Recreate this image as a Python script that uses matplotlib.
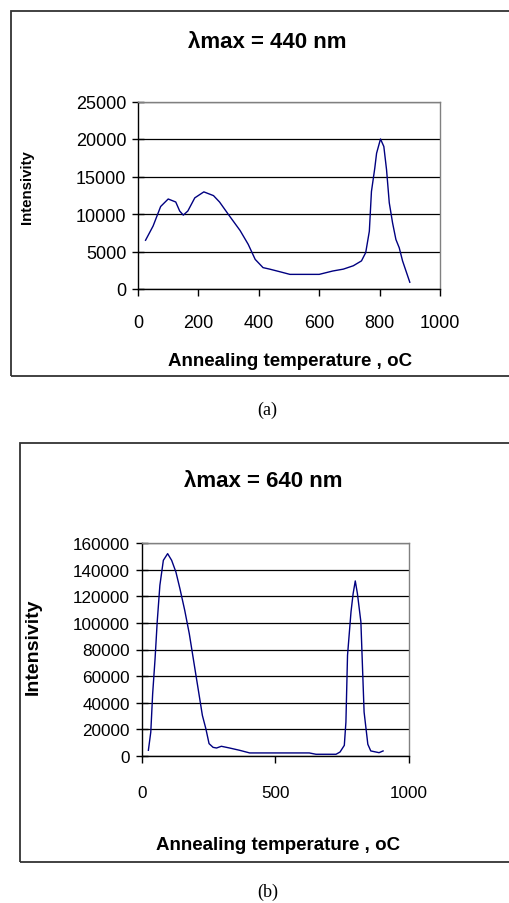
import matplotlib
matplotlib.use("Agg")
import matplotlib.pyplot as plt
from matplotlib.patches import Rectangle

plt.rcParams['font.family'] = ['Liberation Sans', 'DejaVu Sans']

# panel (a): lambda max = 440 nm
temp_a = [25, 50, 75, 100, 125, 138, 150, 165, 188, 218, 250, 270, 300, 338,
          365, 388, 414, 436, 470, 503, 600, 645, 680, 713, 740, 754, 766, 773,
          784, 790, 803, 814, 823, 832, 843, 854, 865, 876, 900]
int_a = [6500, 8400, 11000, 12000, 11600, 10400, 9850, 10400, 12150, 12950,
         12450, 11600, 9900, 7800, 5950, 3950, 2850, 2650, 2300, 1950, 1950,
         2400, 2650, 3100, 3750, 4850, 7700, 13000, 16100, 18100, 20000, 19000,
         15900, 11500, 8800, 6600, 5500, 3750, 900]
yticks_a = [0, 5000, 10000, 15000, 20000, 25000]
xticks_a = [0, 200, 400, 600, 800, 1000]

# panel (b): lambda max = 640 nm
temp_b = [25, 34, 41, 50, 58, 68, 81, 97, 112, 128, 143, 161, 178, 199, 217,
          227, 240, 252, 267, 280, 298, 329, 366, 404, 466, 627, 652, 727, 742,
          758, 764, 770, 783, 791, 799, 807, 820, 832, 846, 857, 888, 903]
int_b = [4300, 18000, 46800, 73000, 100700, 128200, 147000, 152000, 147000,
         138200, 125700, 109400, 91900, 65600, 43100, 30500, 20500, 9300, 6500,
         6000, 7300, 6000, 4300, 2300, 2300, 2300, 1300, 1300, 3000, 8000,
         25500, 75600, 108200, 122000, 131500, 122000, 100700, 33000, 8800,
         3800, 2500, 3800]
yticks_b = [0, 20000, 40000, 60000, 80000, 100000, 120000, 140000, 160000]
xticks_b = [0, 500, 1000]

W, H = 510, 904
fig = plt.figure(figsize=(W / 100, H / 100), dpi=100)


def px(x0, y0, x1, y1):
    # pixel box (left, top, right, bottom) -> figure fraction rect
    return [x0 / W, 1 - y1 / H, (x1 - x0) / W, (y1 - y0) / H]


def panel(box, temps, vals, xt, yt, tick_fs, xpad, title, tpos, xlpos, ylpos, yl_fs, frame):
    fr = Rectangle((frame[0] / W, 1 - frame[3] / H), (frame[2] - frame[0]) / W,
                   (frame[3] - frame[1]) / H, transform=fig.transFigure,
                   fill=False, ec='#333333', lw=1.3, clip_on=False)
    fig.patches.append(fr)
    ax = fig.add_axes(px(*box))
    ax.plot(temps, vals, color='#000080', lw=1.0)
    ax.set_xlim(xt[0], xt[-1])
    ax.set_ylim(yt[0], yt[-1])
    ax.set_xticks(xt)
    ax.set_yticks(yt)
    ax.set_yticklabels([str(v) for v in yt])
    ax.yaxis.grid(True, color='black', lw=0.9)
    ax.set_axisbelow(True)
    for s in ['left', 'bottom']:
        ax.spines[s].set_color('black')
        ax.spines[s].set_linewidth(1.0)
    for s in ['top', 'right']:
        ax.spines[s].set_color('#808080')
        ax.spines[s].set_linewidth(1.0)
    ax.tick_params(axis='y', direction='inout', length=9, width=1,
                   labelsize=tick_fs, pad=4)
    ax.tick_params(axis='x', direction='out', length=5, width=1,
                   labelsize=tick_fs, pad=xpad)
    fig.text(tpos[0] / W, 1 - tpos[1] / H, title, ha='center', va='center',
             fontsize=16, fontweight='bold')
    fig.text(xlpos[0] / W, 1 - xlpos[1] / H, 'Annealing temperature , oC',
             ha='center', va='center', fontsize=13.5, fontweight='bold')
    fig.text(ylpos[0] / W, 1 - ylpos[1] / H, 'Intensivity', ha='center',
             va='center', rotation=90, fontsize=yl_fs, fontweight='bold')
    return ax


panel((138, 102.5, 440, 290), temp_a, int_a, xticks_a, yticks_a, 13, 13,
      'λmax = 440 nm', (267, 42), (290, 362), (27, 187), 10.8,
      (11, 12, 530, 377))
panel((141.7, 544, 409, 757), temp_b, int_b, xticks_b, yticks_b, 12.3, 16,
      'λmax = 640 nm', (263, 482), (278, 846), (33, 647), 14,
      (20, 444, 530, 863))

fig.text(267 / W, 1 - 410 / H, '(a)', ha='center', va='center', fontsize=13,
         family='Liberation Serif')
fig.text(268 / W, 1 - 892 / H, '(b)', ha='center', va='center', fontsize=13,
         family='Liberation Serif')

fig.savefig('out.png', dpi=100)
